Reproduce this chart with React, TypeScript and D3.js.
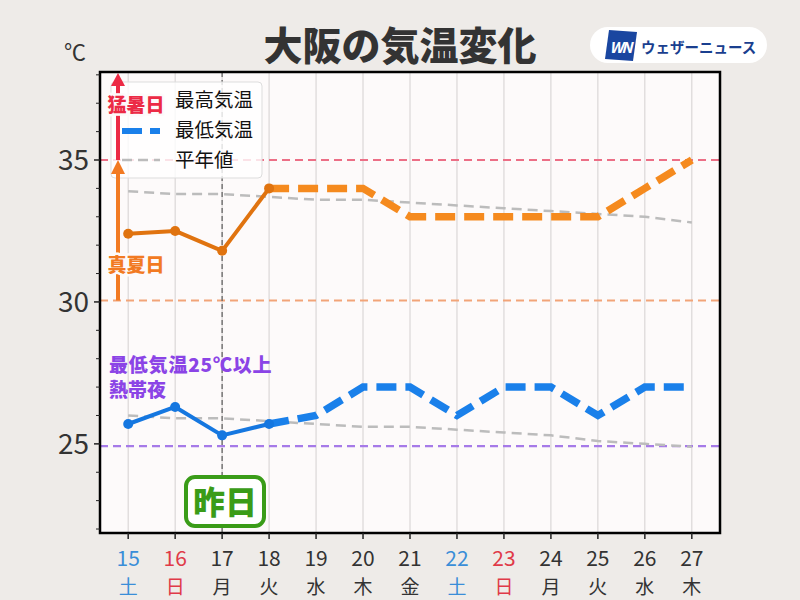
import React from "react";
import * as d3 from "d3";

const days = ["15", "16", "17", "18", "19", "20", "21", "22", "23", "24", "25", "26", "27"];
const weekdays = ["土", "日", "月", "火", "水", "木", "金", "土", "日", "月", "火", "水", "木"];
const maxTemp = [32.4, 32.5, 31.8, 34, 34, 34, 33, 33, 33, 33, 33, 34, 35];
const minTemp = [25.7, 26.3, 25.3, 25.7, 26, 27, 27, 26, 27, 27, 26, 27, 27];
const normalMax = [33.9, 33.8, 33.8, 33.7, 33.6, 33.6, 33.5, 33.4, 33.3, 33.2, 33.1, 33.0, 32.8];
const normalMin = [26.0, 25.9, 25.9, 25.8, 25.7, 25.6, 25.6, 25.5, 25.4, 25.3, 25.1, 25.0, 24.9];
const yTicks = [25, 30, 35];
const observedCount = 4; // 15..18 observed
const yesterdayIndex = 2;

const FONT = "'Noto Sans CJK JP', 'Noto Sans', sans-serif";

export default function App() {
  const L = 100, R = 720, T = 72, B = 533;
  const x = d3.scaleLinear().domain([-0.6, days.length - 1 + 0.6]).range([L, R]);
  const y = d3.scaleLinear().domain([21.86, 38.1]).range([B, T]);
  const line = d3.line<number>().x((_, i) => x(i)).y((d) => y(d));
  const lineOffset = (offset: number) =>
    d3.line<number>().x((_, i) => x(i + offset)).y((d) => y(d));

  const minorTicks = d3.range(22, 39).filter((v) => !yTicks.includes(v));
  const dayColor = (w: string) => (w === "土" ? "#3a8ed8" : w === "日" ? "#e03a48" : "#333");

  const obsMax = maxTemp.slice(0, observedCount);
  const fcMax = maxTemp.slice(observedCount - 1);
  const obsMin = minTemp.slice(0, observedCount);
  const fcMin = minTemp.slice(observedCount - 1);

  const arrowX = 118;
  const plotBg = "#fdfafa";

  return (
    <svg width={800} height={600} style={{ position: "absolute", left: 0, top: 0, fontFamily: FONT }}>
      <rect x={0} y={0} width={800} height={600} fill="#eeebe8" />
      <rect x={L} y={T} width={R - L} height={B - T} fill={plotBg} />

      {/* vertical grid */}
      {days.map((d, i) => (
        <line key={"g" + d} x1={x(i)} x2={x(i)} y1={T} y2={B} stroke="#d4d0d0" strokeWidth={1} />
      ))}

      {/* threshold lines */}
      <line x1={L} x2={R} y1={y(35)} y2={y(35)} stroke="#ec6f86" strokeWidth={2} strokeDasharray="8 5" />
      <line x1={L} x2={R} y1={y(30.05)} y2={y(30.05)} stroke="#f2a478" strokeWidth={2} strokeDasharray="8 5" />
      <line x1={L} x2={R} y1={y(24.92)} y2={y(24.92)} stroke="#a67ae8" strokeWidth={2.2} strokeDasharray="8 5" />

      {/* yesterday line */}
      <line x1={x(yesterdayIndex)} x2={x(yesterdayIndex)} y1={T} y2={B} stroke="#666" strokeWidth={1.3} strokeDasharray="5 3" />

      {/* normal lines */}
      <path d={line(normalMax) || ""} fill="none" stroke="#bcbcbc" strokeWidth={2.5} strokeDasharray="10 6" />
      <path d={line(normalMin) || ""} fill="none" stroke="#bcbcbc" strokeWidth={2.5} strokeDasharray="10 6" />

      {/* forecast lines */}
      <path d={lineOffset(observedCount - 1)(fcMax) || ""} fill="none" stroke="#f58a1e" strokeWidth={7.5} strokeDasharray="20 9" />
      <path d={lineOffset(observedCount - 1)(fcMin) || ""} fill="none" stroke="#1a80ea" strokeWidth={7.5} strokeDasharray="20 9" />

      {/* observed lines */}
      <path d={line(obsMax) || ""} fill="none" stroke="#e0730f" strokeWidth={4} strokeLinejoin="round" />
      {obsMax.map((v, i) => (
        <circle key={"om" + i} cx={x(i)} cy={y(v)} r={5} fill="#e0730f" />
      ))}
      <path d={line(obsMin) || ""} fill="none" stroke="#1577e0" strokeWidth={4} strokeLinejoin="round" />
      {obsMin.map((v, i) => (
        <circle key={"on" + i} cx={x(i)} cy={y(v)} r={5} fill="#1577e0" />
      ))}

      {/* legend */}
      <rect x={111} y={82} width={151} height={96} rx={4} fill="#ffffff" fillOpacity={0.8} stroke="#dddddd" strokeWidth={1} />
      <line x1={122} x2={160} y1={131} y2={131} stroke="#1a80ea" strokeWidth={6} strokeDasharray="20 8" />
      <line x1={122} x2={160} y1={160} y2={160} stroke="#bcbcbc" strokeWidth={2.5} strokeDasharray="10 6" />
      <text x={175} y={107} fontSize={19.5} fill="#111">最高気温</text>
      <text x={175} y={137} fontSize={19.5} fill="#111">最低気温</text>
      <text x={175} y={167} fontSize={19.5} fill="#111">平年値</text>

      {/* arrows */}
      <line x1={arrowX} x2={arrowX} y1={y(35)} y2={84} stroke="#ec2a45" strokeWidth={4} />
      <path d={`M${arrowX - 7},86 L${arrowX},73 L${arrowX + 7},86 Z`} fill="#ec2a45" />
      <line x1={arrowX} x2={arrowX} y1={y(30.05)} y2={172} stroke="#f27a22" strokeWidth={4} />
      <path d={`M${arrowX - 7},174 L${arrowX},160 L${arrowX + 7},174 Z`} fill="#f27a22" />
      <text x={136} y={112} fontSize={19} fontWeight={900} fill="#ec2a45" textAnchor="middle"
        stroke={plotBg} strokeWidth={5} paintOrder="stroke" strokeLinejoin="round">猛暑日</text>
      <text x={136} y={272} fontSize={19} fontWeight={900} fill="#f27a22" textAnchor="middle"
        stroke={plotBg} strokeWidth={5} paintOrder="stroke" strokeLinejoin="round">真夏日</text>
      <text x={109} y={372} fontSize={19} fontWeight={900} fill="#8b44e6" letterSpacing={0.8}>最低気温25℃以上</text>
      <text x={109} y={397} fontSize={19} fontWeight={900} fill="#8b44e6">熱帯夜</text>

      {/* yesterday label */}
      <rect x={186} y={477} width={78} height={49} rx={9} fill="#ffffff" stroke="#3a9c18" strokeWidth={4} />
      <text x={225} y={514} fontSize={32} fontWeight={900} fill="#3a9c18" textAnchor="middle">昨日</text>

      {/* frame */}
      <rect x={L} y={T} width={R - L} height={B - T} fill="none" stroke="#000" strokeWidth={2.5} />

      {/* y axis */}
      {yTicks.map((t) => (
        <g key={"yt" + t}>
          <line x1={L - 6} x2={L} y1={y(t)} y2={y(t)} stroke="#222" strokeWidth={1.5} />
          <text x={89} y={y(t) + 10} fontSize={28} fill="#333" textAnchor="end">{t}</text>
        </g>
      ))}
      {minorTicks.map((t) => (
        <line key={"mt" + t} x1={L - 4} x2={L} y1={y(t)} y2={y(t)} stroke="#222" strokeWidth={1} />
      ))}
      <text x={64} y={60} fontSize={22} fill="#333">℃</text>

      {/* x axis */}
      {days.map((d, i) => (
        <g key={"xt" + d}>
          <line x1={x(i)} x2={x(i)} y1={B} y2={B + 6} stroke="#222" strokeWidth={1.5} />
          <text x={x(i)} y={566} fontSize={21} fill={dayColor(weekdays[i])} textAnchor="middle">{d}</text>
          <text x={x(i)} y={594} fontSize={19} fill={dayColor(weekdays[i])} textAnchor="middle">{weekdays[i]}</text>
        </g>
      ))}

      {/* title */}
      <text x={400} y={60} fontSize={39} fontWeight={900} fill="#333" textAnchor="middle">大阪の気温変化</text>

      {/* logo */}
      <rect x={590} y={27} width={177} height={36} rx={18} fill="#ffffff" />
      <path d="M609,30 L637,32 L633,61 L605,59 Z" fill="#1a46a0" />
      <text x={620} y={53} fontSize={15} fontWeight={700} fontStyle="italic" fill="#ffffff" textAnchor="middle"
        letterSpacing={-2}>WN</text>
      <text x={641} y={53} fontSize={14.5} fontWeight={700} fill="#1a3f8f">ウェザーニュース</text>
    </svg>
  );
}
